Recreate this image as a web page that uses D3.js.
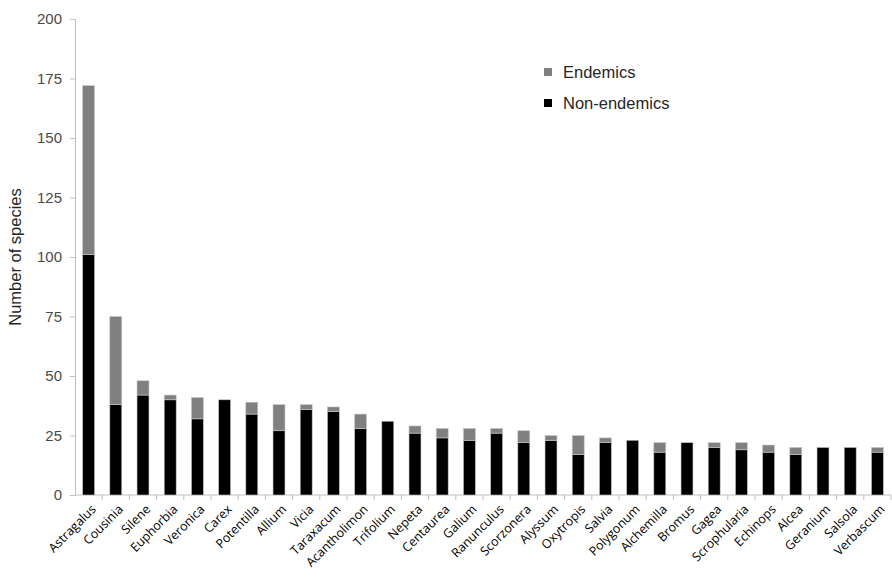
<!DOCTYPE html>
<html>
<head>
<meta charset="utf-8">
<script src="https://d3js.org/d3.v7.min.js"></script>
<style>
  body { margin: 0; background: #fff; }
  svg { display: block; }
</style>
</head>
<body>
<div id="chart"></div>
<script>
// genera, left to right
var genera = ["Astragalus", "Cousinia", "Silene", "Euphorbia", "Veronica", "Carex",
  "Potentilla", "Allium", "Vicia", "Taraxacum", "Acantholimon", "Trifolium", "Nepeta",
  "Centaurea", "Galium", "Ranunculus", "Scorzonera", "Alyssum", "Oxytropis", "Salvia",
  "Polygonum", "Alchemilla", "Bromus", "Gagea", "Scrophularia", "Echinops", "Alcea",
  "Geranium", "Salsola", "Verbascum"];
var nonEndemics = [101, 38, 42, 40, 32, 40, 34, 27, 36, 35, 28, 31, 26, 24, 23, 26, 22,
  23, 17, 22, 23, 18, 22, 20, 19, 18, 17, 20, 20, 18];
var endemics = [71, 37, 6, 2, 9, 0, 5, 11, 2, 2, 6, 0, 3, 4, 5, 2, 5, 2, 8, 2, 0, 4, 0,
  2, 3, 3, 3, 0, 0, 2];
var yTicks = [0, 25, 50, 75, 100, 125, 150, 175, 200];
var seriesNames = ["Endemics", "Non-endemics"];
var seriesColors = ["#808080", "#000000"];

var width = 892, height = 580;
var margin = {top: 19, right: 1, bottom: 85, left: 75};

var svg = d3.select("#chart").append("svg")
  .attr("width", width)
  .attr("height", height);

var x = d3.scaleBand()
  .domain(genera)
  .range([margin.left, width - margin.right])
  .paddingInner(0.56)
  .paddingOuter(0.28);

var y = d3.scaleLinear()
  .domain([0, 200])
  .range([height - margin.bottom, margin.top]);

// stacked data
var rows = genera.map(function(g, i) {
  return {genus: g, non: nonEndemics[i], end: endemics[i]};
});
var layers = d3.stack().keys(["non", "end"])(rows);

// Y AXIS
var yAxis = svg.append("g")
  .attr("transform", "translate(" + margin.left + ",0)")
  .call(d3.axisLeft(y).tickValues(yTicks).tickSize(5).tickPadding(8));
yAxis.select(".domain").attr("stroke", "#bfbfbf");
yAxis.selectAll(".tick line").attr("stroke", "#bfbfbf");
yAxis.selectAll(".tick text")
  .attr("fill", "#4a4a4a")
  .style("font-family", "Liberation Sans, Arial, sans-serif")
  .style("font-size", "15px");

// X AXIS - ticks between categories
var step = x.step();
var xAxisG = svg.append("g")
  .attr("transform", "translate(0," + y(0) + ")");
xAxisG.append("line")
  .attr("x1", margin.left).attr("x2", width - margin.right)
  .attr("stroke", "#bfbfbf");
xAxisG.selectAll(".sep")
  .data(genera)
  .enter().append("line")
  .attr("class", "sep")
  .attr("x1", function(d) { return x(d) + x.bandwidth() / 2 + step / 2; })
  .attr("x2", function(d) { return x(d) + x.bandwidth() / 2 + step / 2; })
  .attr("y1", 0).attr("y2", 5)
  .attr("stroke", "#bfbfbf");

xAxisG.selectAll(".lbl")
  .data(genera)
  .enter().append("text")
  .attr("class", "lbl")
  .attr("transform", function(d) {
    return "translate(" + (x(d) + x.bandwidth() / 2 + 5) + ",12) rotate(-45)";
  })
  .attr("text-anchor", "end")
  .attr("dy", "0.35em")
  .attr("fill", "#000")
  .style("font-family", "Open Sans, Liberation Sans, sans-serif")
  .style("font-size", "12.5px")
  .text(function(d) { return d; });

// BARS
svg.selectAll(".layer")
  .data(layers)
  .enter().append("g")
  .attr("class", "layer")
  .attr("fill", function(d, i) { return i === 0 ? seriesColors[1] : seriesColors[0]; })
  .selectAll("rect")
  .data(function(d) { return d.filter(function(s) { return s[1] > s[0]; }); })
  .enter().append("rect")
  .attr("x", function(d) { return x(d.data.genus); })
  .attr("y", function(d) { return y(d[1]); })
  .attr("width", x.bandwidth())
  .attr("height", function(d) { return y(d[0]) - y(d[1]); })
  .attr("stroke", "#c8c8c8")
  .attr("stroke-width", 0.6);

// Y LABEL
svg.append("text")
  .attr("transform", "translate(21," + ((y(0) + y(200)) / 2) + ") rotate(-90)")
  .attr("text-anchor", "middle")
  .attr("fill", "#262626")
  .style("font-family", "Liberation Sans, Arial, sans-serif")
  .style("font-size", "16.5px")
  .text("Number of species");

// LEGEND
var legend = svg.selectAll(".legend")
  .data(seriesNames)
  .enter().append("g")
  .attr("class", "legend")
  .attr("transform", function(d, i) { return "translate(544," + (72 + i * 31) + ")"; });
legend.append("rect")
  .attr("x", 0).attr("y", -4)
  .attr("width", 8).attr("height", 8)
  .attr("fill", function(d, i) { return seriesColors[i]; });
legend.append("text")
  .attr("x", 19).attr("dy", "0.36em")
  .attr("fill", "#262626")
  .style("font-family", "Liberation Sans, Arial, sans-serif")
  .style("font-size", "16.5px")
  .text(function(d) { return d; });
</script>
</body>
</html>
